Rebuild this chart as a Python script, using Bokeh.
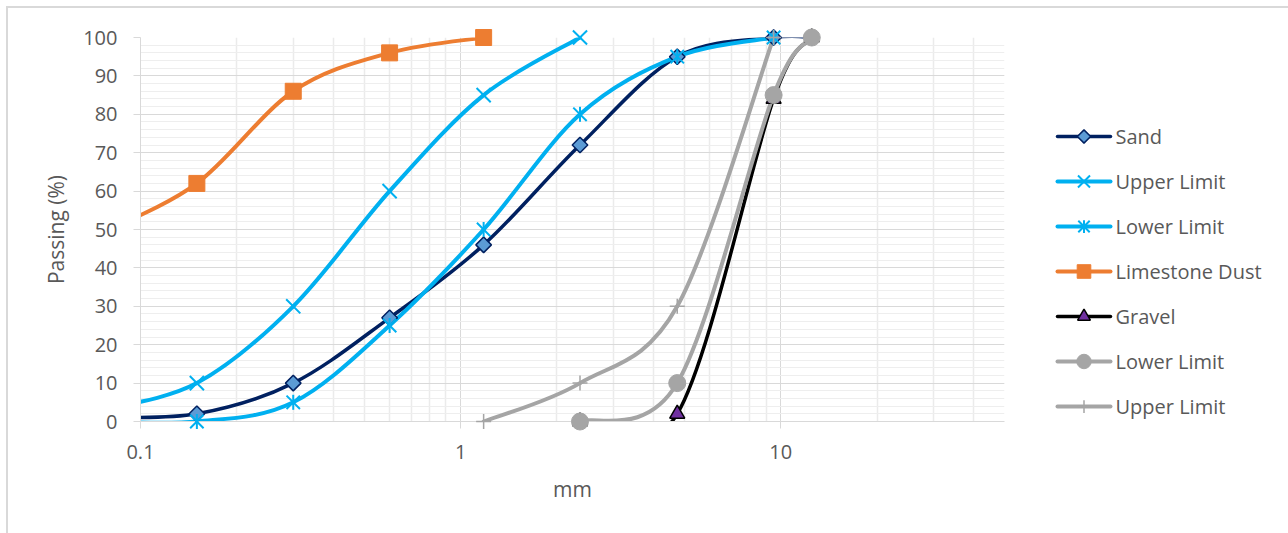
import numpy as np
from bokeh.plotting import figure
from bokeh.layouts import row
from bokeh.models import Range1d, FixedTicker, ColumnDataSource
from bokeh.embed import file_html
from bokeh.resources import INLINE
from bokeh.core.properties import value

# ---------------- data ----------------
sieve_sand = [0.075, 0.15, 0.3, 0.6, 1.18, 2.36, 4.75, 9.5, 12.5]
sand = [1, 2, 10, 27, 46, 72, 95, 100, 100]

sieve_fine_upper = [0.075, 0.15, 0.3, 0.6, 1.18, 2.36]
fine_upper = [3, 10, 30, 60, 85, 100]

sieve_fine_lower = [0.075, 0.15, 0.3, 0.6, 1.18, 2.36, 4.75, 9.5]
fine_lower = [0, 0, 5, 25, 50, 80, 95, 100]

sieve_dust = [0.075, 0.15, 0.3, 0.6, 1.18]
dust = [49, 62, 86, 96, 100]

sieve_gravel = [2.36, 4.75, 9.5, 12.5]
gravel = [0, 2, 84, 100]
gravel_lower = [0, 10, 85, 100]

sieve_gravel_upper = [1.18, 2.36, 4.75, 9.5]
gravel_upper = [0, 10, 30, 100]

legend_labels = ["Sand", "Upper Limit", "Lower Limit", "Limestone Dust",
                 "Gravel", "Lower Limit", "Upper Limit"]

x_major = [0.1, 1, 10]
x_minor = [0.2, 0.3, 0.4, 0.5, 0.6, 0.7, 0.8, 0.9,
           2, 3, 4, 5, 6, 7, 8, 9, 20, 30, 40, 50]
y_major = list(range(0, 101, 10))
y_minor = list(range(0, 101, 2))

FONT = "Open Sans"
TXT = "#595959"
GRID = "#D9D9D9"
BORDER_TOP, BORDER_BOTTOM, FIG_H = 29, 112, 525


def smooth_source(xs, ys):
    """Excel-like smoothed line: cubic Bezier segments, tangents from neighbours."""
    u = np.log10(np.asarray(xs, float))
    y = np.asarray(ys, float)
    n = len(u)
    d = dict(x0=[], y0=[], x1=[], y1=[], cx0=[], cy0=[], cx1=[], cy1=[])
    for i in range(n - 1):
        p_ = max(i - 1, 0)
        q_ = min(i + 2, n - 1)
        c0u = u[i] + (u[i + 1] - u[p_]) / 6.0
        c0y = y[i] + (y[i + 1] - y[p_]) / 6.0
        c1u = u[i + 1] - (u[q_] - u[i]) / 6.0
        c1y = y[i + 1] - (y[q_] - y[i]) / 6.0
        d["x0"].append(10 ** u[i]); d["y0"].append(y[i])
        d["x1"].append(10 ** u[i + 1]); d["y1"].append(y[i + 1])
        d["cx0"].append(10 ** c0u); d["cy0"].append(c0y)
        d["cx1"].append(10 ** c1u); d["cy1"].append(c1y)
    return ColumnDataSource(d)


def visible_points(xs, ys):
    return ColumnDataSource(dict(x=[a for a in xs if a >= 0.1],
                                 y=[b for a, b in zip(xs, ys) if a >= 0.1]))


p = figure(width=1016, height=FIG_H, x_axis_type="log",
           x_range=Range1d(0.1, 50), y_range=Range1d(0, 100),
           output_backend="svg", toolbar_location=None,
           min_border_left=132, min_border_right=20,
           min_border_top=BORDER_TOP, min_border_bottom=BORDER_BOTTOM)
p.outline_line_color = None
p.background_fill_color = "white"
p.border_fill_color = "white"

# axes
p.xaxis.ticker = FixedTicker(ticks=x_major, minor_ticks=x_minor)
p.yaxis.ticker = FixedTicker(ticks=y_major, minor_ticks=y_minor)
p.xaxis.major_label_overrides = {0.1: "0.1", 1: "1", 10: "10"}
for ax in (p.xaxis[0], p.yaxis[0]):
    ax.axis_line_color = GRID
    ax.major_tick_line_color = GRID
    ax.major_tick_in = 0
    ax.major_tick_out = 7
    ax.minor_tick_line_color = None
    ax.major_label_text_font = FONT
    ax.major_label_text_font_size = "20px"
    ax.major_label_text_color = TXT
    ax.axis_label_text_font = FONT
    ax.axis_label_text_font_size = "21px"
    ax.axis_label_text_color = TXT
    ax.axis_label_text_font_style = "normal"
p.xaxis.axis_label = "mm"
p.yaxis.axis_label = "Passing (%)"
p.xaxis.major_label_standoff = 16
p.yaxis.major_label_standoff = 16
p.xaxis.axis_label_standoff = 13
p.yaxis.axis_label_standoff = 10

p.xgrid.grid_line_color = GRID
p.ygrid.grid_line_color = GRID
p.xgrid.minor_grid_line_color = "#EBEBEB"
p.ygrid.minor_grid_line_color = "#EEEEEE"
p.xgrid.minor_grid_line_width = 1.5
p.ygrid.minor_grid_line_width = 1

series = [
    dict(xs=sieve_sand, ys=sand, color="#002060", lw=3.5,
         markers=[dict(marker="square", size=11, angle=np.pi / 4,
                       fill_color="#5B9BD5", line_color="#002060", line_width=1.5)]),
    dict(xs=sieve_fine_upper, ys=fine_upper, color="#00B0F0", lw=4,
         markers=[dict(marker="x", size=20, angle=0, fill_color=None,
                       line_color="#00B0F0", line_width=2)]),
    dict(xs=sieve_fine_lower, ys=fine_lower, color="#00B0F0", lw=4,
         markers=[dict(marker="x", size=19, angle=0, fill_color=None,
                       line_color="#00B0F0", line_width=2),
                  dict(marker="dash", size=15, angle=np.pi / 2, fill_color=None,
                       line_color="#00B0F0", line_width=2)]),
    dict(xs=sieve_dust, ys=dust, color="#ED7D31", lw=4,
         markers=[dict(marker="square", size=16, angle=0,
                       fill_color="#ED7D31", line_color="#ED7D31", line_width=1)]),
    dict(xs=sieve_gravel, ys=gravel, color="#000000", lw=3.5,
         markers=[dict(marker="triangle", size=15, angle=0,
                       fill_color="#7030A0", line_color="#000000", line_width=1.5)]),
    dict(xs=sieve_gravel, ys=gravel_lower, color="#A5A5A5", lw=4,
         markers=[dict(marker="circle", size=17, angle=0,
                       fill_color="#A5A5A5", line_color="#A5A5A5", line_width=1)]),
    dict(xs=sieve_gravel_upper, ys=gravel_upper, color="#A5A5A5", lw=4,
         markers=[dict(marker="cross", size=15, angle=0, fill_color=None,
                       line_color="#A5A5A5", line_width=1.5)]),
]

for s in series:
    src = smooth_source(s["xs"], s["ys"])
    p.bezier(x0="x0", y0="y0", x1="x1", y1="y1", cx0="cx0", cy0="cy0",
             cx1="cx1", cy1="cy1", source=src, line_color=s["color"],
             line_width=s["lw"], line_cap="round")
    psrc = visible_points(s["xs"], s["ys"])
    for m in s["markers"]:
        r = p.scatter(x="x", y="y", source=psrc, marker=m["marker"], size=m["size"],
                      angle=m["angle"], fill_color=m["fill_color"],
                      line_color=m["line_color"], line_width=m["line_width"])
        r.level = "overlay"

# ---------------- legend panel (pixel coordinates, y downward) ----------------
LW = 264
frame_top = BORDER_TOP + 8
frame_bottom = FIG_H - BORDER_BOTTOM + 8
lg = figure(width=LW, height=FIG_H, x_range=Range1d(0, LW),
            y_range=Range1d(frame_bottom, frame_top),
            output_backend="svg", toolbar_location=None,
            min_border_left=0, min_border_right=0,
            min_border_top=BORDER_TOP, min_border_bottom=BORDER_BOTTOM)
lg.axis.visible = False
lg.grid.visible = False
lg.outline_line_color = None
lg.background_fill_color = "white"
lg.border_fill_color = "white"

item_x0, item_x1, item_top, item_step = 33, 86, 136, 45
for i, (s, lab) in enumerate(zip(series, legend_labels)):
    yy = item_top + i * item_step
    lg.segment(x0=[item_x0], y0=[yy], x1=[item_x1], y1=[yy],
               line_color=s["color"], line_width=s["lw"], line_cap="round")
    for m in s["markers"]:
        lg.scatter(x=[(item_x0 + item_x1) / 2], y=[yy], marker=m["marker"],
                   size=m["size"] * 0.85, angle=-m["angle"],
                   fill_color=m["fill_color"], line_color=m["line_color"],
                   line_width=m["line_width"])
    lg.text(x=[item_x1 + 5], y=[yy], text=[lab], text_baseline="middle",
            text_align="left", text_font=value(FONT), text_font_size="20px",
            text_color=TXT)

lay = row(p, lg)
lay.styles = {"margin-left": "6px", "margin-top": "6px",
              "border-top": "2px solid #D9D9D9",
              "border-left": "2px solid #D9D9D9"}

open("out.html", "w").write(file_html(lay, INLINE))
